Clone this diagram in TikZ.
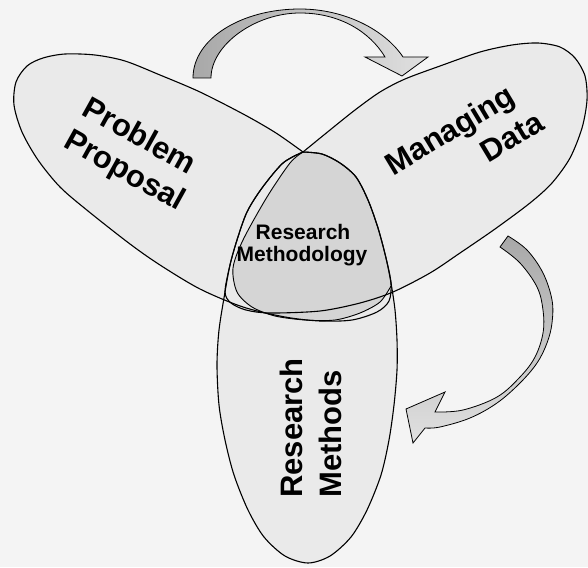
\documentclass[tikz,border=0pt]{standalone}
\usepackage{fontspec}
\setmainfont{Liberation Sans}
\definecolor{paper}{HTML}{F4F4F4}
\definecolor{petal}{HTML}{EAEAEA}
\definecolor{coregray}{HTML}{D5D5D5}
\definecolor{bandfirm}{HTML}{A8A8A8}
\definecolor{bandsoft}{HTML}{E0E0E0}
\begin{document}
\begin{tikzpicture}[x=1pt,y=-1pt,
  rim/.style={draw=black, line width=1.1pt, line join=round},
  bandline/.style={draw=black, line width=0.8pt, line join=miter},
  biglabel/.style={font=\bfseries\fontsize{31}{36}\selectfont, inner sep=0pt},
  corelabel/.style={font=\bfseries\fontsize{21}{24}\selectfont, inner sep=0pt}]

% canvas
\fill[paper] (0,0) rectangle (588,567);
\useasboundingbox (0,0) rectangle (588,567);

% meeting point of the three petals
\coordinate (hub) at (303,152);

% ---------- fills ----------
% west petal (Problem Proposal)
\fill[petal] plot[smooth] coordinates {(303,152) (322,154) (340,163) (356,177) (368,200) (378,228)
  (386,258) (391,283) (389,301) (377,312) (352,320) (320,321) (285,317) (243,307) (200,289)
  (160,265) (130,244) (88,211) (60,187) (38,160) (22,132) (14,105) (16,82) (27,66) (43,58)
  (65,54) (95,55) (125,61) (160,75) (200,92) (245,115) (276,133) (303,152)} -- cycle;
% east petal (Managing Data)
\fill[petal] plot[smooth] coordinates {(303,152) (283,163) (262,188) (247,212) (237,240) (230,265)
  (225,292) (231,303) (246,310) (270,313) (320,311) (360,303) (393,292) (430,273) (460,253)
  (495,229) (530,203) (552,183) (570,158) (582,128) (587,100) (585,76) (575,58) (560,47)
  (538,43) (512,45) (480,52) (440,66) (405,79) (380,92) (355,110) (330,130) (303,152)} -- cycle;
% south petal (Research Methods)
\fill[petal] plot[smooth] coordinates {(303,152) (322,154) (340,163) (356,177) (368,200) (378,228)
  (386,258) (391,283) (395,310) (397,340) (397,370) (394,405) (389,440) (381,475) (367,510)
  (351,537) (330,556) (308,563) (285,556) (264,537) (248,510) (234,475) (225,440) (219,405)
  (217,365) (219,330) (225,292) (230,265) (237,240) (247,212) (262,188) (283,163) (303,152)} -- cycle;

% shared core (Research Methodology)
\fill[coregray] plot[smooth] coordinates {(303,152) (290,163) (267,197) (243,240) (233,268)
  (237,292) (252,307) (275,316) (305,320) (335,320) (360,313) (380,302) (391,286)}
  -- plot[smooth] coordinates {(386,258) (378,228) (368,200) (356,177) (340,163) (322,154)}
  -- cycle;

% ---------- outlines ----------
\draw[rim] plot[smooth] coordinates {(303,152) (322,154) (340,163) (356,177) (368,200) (378,228)
  (386,258) (391,283) (389,301) (377,312) (352,320) (320,321) (285,317) (243,307) (200,289)
  (160,265) (130,244) (88,211) (60,187) (38,160) (22,132) (14,105) (16,82) (27,66) (43,58)
  (65,54) (95,55) (125,61) (160,75) (200,92) (245,115) (276,133) (303,152)};
\draw[rim] plot[smooth] coordinates {(303,152) (283,163) (262,188) (247,212) (237,240) (230,265)
  (225,292) (231,303) (246,310) (270,313) (320,311) (360,303) (393,292) (430,273) (460,253)
  (495,229) (530,203) (552,183) (570,158) (582,128) (587,100) (585,76) (575,58) (560,47)
  (538,43) (512,45) (480,52) (440,66) (405,79) (380,92) (355,110) (330,130) (303,152)};
\draw[rim] plot[smooth] coordinates {(303,152) (322,154) (340,163) (356,177) (368,200) (378,228)
  (386,258) (391,283) (395,310) (397,340) (397,370) (394,405) (389,440) (381,475) (367,510)
  (351,537) (330,556) (308,563) (285,556) (264,537) (248,510) (234,475) (225,440) (219,405)
  (217,365) (219,330) (225,292) (230,265) (237,240) (247,212) (262,188) (283,163) (303,152)};
\draw[black, line width=0.9pt] plot[smooth] coordinates {(303,152) (290,163) (267,197) (243,240)
  (233,268) (237,292) (252,307) (275,316) (305,320) (335,320) (360,313) (380,302) (391,286)};

% ---------- curved arrows ----------
\shadedraw[bandline, left color=bandfirm, right color=bandsoft]
  (193,78) .. controls (193,39) and (241,9) .. (300,9)
  .. controls (345,9) and (385,30) .. (403,57)
  -- (428,57) -- (402,76) -- (365,57) -- (385,57)
  .. controls (370,32) and (340,13) .. (300,13)
  .. controls (255,13) and (211,45) .. (211,78) -- cycle;

\shadedraw[bandline, top color=bandfirm, bottom color=bandsoft]
  plot[smooth, tension=0.6] coordinates {(508,236) (527,250) (543,273) (552,300) (552,323)
    (547,343) (537,363) (520,383) (497,403) (470,418) (440,427) (425,428)}
  -- (413,443) -- (406,409) -- (445,392) -- (435,412)
  -- plot[smooth, tension=0.6] coordinates {(435,412) (463,410) (497,397) (520,377) (535,357)
    (543,333) (543,310) (537,287) (520,263) (500,247)}
  -- cycle;

% ---------- labels ----------
\node[biglabel, rotate=-29] (lp1) at (140,135) {Problem};
\node[biglabel, rotate=-29] (lp2) at (124,172) {Proposal};
\node[biglabel, rotate=31]  (ld1) at (451,132) {Managing};
\node[biglabel, rotate=31]  (ld2) at (512,137) {Data};
\node[biglabel, rotate=90]  (lm1) at (291.5,428) {Research};
\node[biglabel, rotate=90]  (lm2) at (330.5,434) {Methods};
\node[corelabel] (lc1) at (303,232) {Research};
\node[corelabel] (lc2) at (302,256) {Methodology};
\end{tikzpicture}
\end{document}
